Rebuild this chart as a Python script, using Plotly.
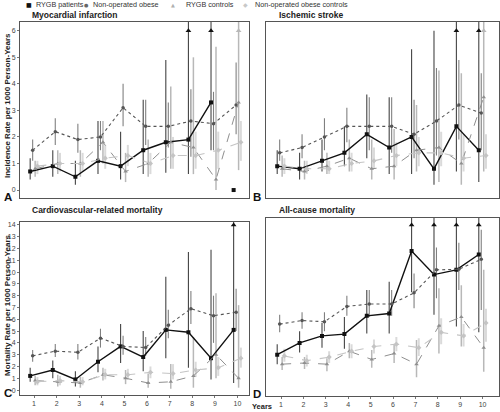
import plotly.graph_objects as go

YEARS = [1, 2, 3, 4, 5, 6, 7, 8, 9, 10]
Y_TICKS_TOP = [0, 1, 2, 3, 4, 5, 6]
Y_TICKS_BOTTOM = list(range(0, 15))

SERIES_NAMES = ["RYGB patients", "Non-operated obese", "RYGB controls", "Non-operated obese controls"]
PANEL_TITLES = ["Myocardial infarction", "Ischemic stroke", "Cardiovascular-related mortality", "All-cause mortality"]
PANEL_LETTERS = ["A", "B", "C", "D"]

# ---- Panel A: Myocardial infarction ----
MI_RYGB = [0.7, 0.9, 0.5, 1.1, 0.9, 1.5, 1.8, 1.9, 3.3, 0.0]
MI_RYGB_LO = [0.4, 0.5, 0.2, 0.6, 0.4, 0.6, 0.65, 0.6, 1.5, None]
MI_RYGB_HI = [1.2, 1.5, 1.1, 2.6, 2.2, 3.4, 4.9, 8.0, 8.0, None]
MI_NONOP = [1.5, 2.2, 1.9, 2.0, 3.1, 2.4, 2.4, 2.6, 2.5, 3.2]
MI_NONOP_LO = [1.1, 1.7, 1.4, 1.5, 2.4, 1.7, 1.6, 1.25, 1.5, 2.1]
MI_NONOP_HI = [1.9, 2.7, 2.5, 2.6, 4.0, 3.4, 3.3, 3.8, 3.7, 4.8]
MI_RCTRL = [0.8, 1.0, 1.0, 1.8, 0.7, 1.0, 1.8, 1.6, 0.4, 3.3]
MI_RCTRL_LO = [0.5, 0.6, 0.5, 1.0, 0.3, 0.5, 0.8, 0.6, 0.0, 0.75]
MI_RCTRL_HI = [1.1, 1.5, 1.5, 2.6, 1.4, 1.9, 3.9, 5.0, 5.4, 8.0]
MI_NCTRL = [0.9, 1.0, 1.0, 1.2, 1.3, 1.0, 1.3, 1.3, 1.5, 1.8]
MI_NCTRL_LO = [0.6, 0.7, 0.7, 0.8, 0.9, 0.6, 0.8, 0.8, 0.8, 1.1]
MI_NCTRL_HI = [1.1, 1.4, 1.4, 1.7, 1.7, 1.4, 2.0, 2.2, 2.2, 2.6]

# ---- Panel B: Ischemic stroke ----
IS_RYGB = [0.9, 0.8, 1.1, 1.4, 2.1, 1.6, 2.0, 0.8, 2.4, 1.5]
IS_RYGB_LO = [0.6, 0.4, 0.7, 0.9, 1.2, 0.6, 0.6, 0.2, 0.7, 0.3]
IS_RYGB_HI = [1.5, 1.4, 1.9, 2.4, 3.6, 3.5, 5.3, 6.0, 8.0, 8.0]
IS_NONOP = [1.4, 1.6, 2.0, 2.4, 2.4, 2.4, 2.1, 2.6, 3.2, 2.9]
IS_NONOP_LO = [1.1, 1.2, 1.5, 1.8, 1.5, 1.4, 1.2, 1.3, 1.9, 1.5]
IS_NONOP_HI = [1.9, 2.1, 2.7, 3.1, 3.5, 3.5, 3.4, 4.6, 4.9, 4.4]
IS_RCTRL = [0.8, 0.7, 0.9, 1.2, 0.8, 0.9, 1.5, 1.6, 1.0, 3.5]
IS_RCTRL_LO = [0.5, 0.4, 0.6, 0.7, 0.4, 0.4, 0.7, 0.3, 0.2, 0.7]
IS_RCTRL_HI = [1.3, 1.1, 1.4, 1.9, 1.9, 2.3, 3.2, 4.5, 4.4, 8.0]
IS_NCTRL = [0.9, 0.8, 0.8, 1.0, 1.1, 1.3, 1.4, 1.4, 1.2, 1.3]
IS_NCTRL_LO = [0.6, 0.6, 0.6, 0.7, 0.8, 0.9, 0.9, 0.9, 0.7, 0.8]
IS_NCTRL_HI = [1.2, 1.1, 1.1, 1.4, 1.6, 1.8, 2.0, 2.2, 2.1, 2.1]

# ---- Panel C: Cardiovascular-related mortality ----
CV_RYGB = [1.2, 1.7, 0.9, 2.4, 3.7, 2.8, 5.1, 4.9, 2.7, 5.1]
CV_RYGB_LO = [0.7, 1.0, 0.3, 1.5, 2.3, 1.6, 2.7, 1.9, 0.9, 0.6]
CV_RYGB_HI = [1.9, 2.5, 1.6, 3.7, 5.6, 5.0, 9.6, 11.7, 11.9, 16.0]
CV_NONOP = [2.9, 3.3, 3.2, 4.4, 3.7, 3.6, 5.5, 6.9, 6.3, 6.6]
CV_NONOP_LO = [2.4, 2.8, 2.6, 3.6, 3.0, 2.9, 4.4, 5.6, 4.0, 5.0]
CV_NONOP_HI = [3.4, 3.9, 3.9, 5.2, 4.6, 4.5, 6.8, 8.4, 8.0, 8.6]
CV_RCTRL = [0.8, 0.7, 0.6, 1.3, 1.0, 0.6, 0.7, 1.2, 3.0, 1.0]
CV_RCTRL_LO = [0.4, 0.3, 0.2, 0.8, 0.5, 0.2, 0.1, 0.2, 1.0, 0.2]
CV_RCTRL_HI = [1.2, 1.3, 1.1, 1.9, 1.7, 1.4, 2.2, 4.5, 8.2, 7.2]
CV_NCTRL = [0.7, 0.8, 0.7, 1.3, 1.3, 1.5, 1.4, 1.7, 1.9, 2.7]
CV_NCTRL_LO = [0.4, 0.4, 0.4, 0.9, 0.9, 1.0, 0.9, 1.1, 1.2, 1.9]
CV_NCTRL_HI = [1.1, 1.2, 1.1, 1.8, 1.8, 2.0, 2.2, 2.4, 2.8, 3.6]

# ---- Panel D: All-cause mortality ----
AC_RYGB = [3.0, 4.0, 4.6, 4.75, 6.3, 6.5, 11.8, 9.8, 10.2, 11.5]
AC_RYGB_LO = [2.2, 3.2, 3.6, 3.5, 4.8, 4.8, 8.3, 6.4, 5.4, 4.9]
AC_RYGB_HI = [3.9, 5.0, 5.7, 6.2, 8.5, 9.2, 16.0, 16.0, 16.0, 16.0]
AC_NONOP = [5.6, 5.9, 5.8, 7.1, 7.3, 7.3, 8.25, 10.2, 10.25, 11.1]
AC_NONOP_LO = [4.9, 5.2, 5.0, 6.3, 6.2, 6.3, 6.95, 7.8, 8.5, 6.8]
AC_NONOP_HI = [6.4, 6.6, 6.6, 8.0, 8.5, 8.5, 9.9, 12.1, 12.5, 13.6]
AC_RCTRL = [2.2, 2.3, 2.2, 3.3, 2.6, 3.1, 2.2, 5.45, 6.2, 3.6]
AC_RCTRL_LO = [1.7, 1.8, 1.6, 2.7, 1.9, 2.3, 1.1, 3.1, 3.7, 1.55]
AC_RCTRL_HI = [2.8, 2.8, 2.7, 4.0, 3.4, 3.9, 4.25, 8.65, 8.9, 10.2]
AC_NCTRL = [2.9, 2.5, 2.8, 3.3, 3.7, 3.9, 3.6, 4.9, 4.6, 5.7]
AC_NCTRL_LO = [2.4, 2.0, 2.3, 2.7, 3.1, 3.3, 2.9, 3.9, 3.7, 4.1]
AC_NCTRL_HI = [3.5, 3.0, 3.3, 3.9, 4.3, 4.5, 4.4, 6.1, 5.6, 6.9]

# ---------------- styling ----------------
FONT = "Liberation Sans, Arial, sans-serif"
STYLES = [
    dict(color="#111111", dash="solid", width=1.4, symbol="square", size=4, bar="#444444", barw=1.1),
    dict(color="#555555", dash="dot", width=1.1, symbol="circle", size=3.5, bar="#808080", barw=1.1),
    dict(color="#8f8f8f", dash="dash", width=1.0, symbol="triangle-up", size=4, bar="#b8b8b8", barw=1.5),
    dict(color="#c4c4c4", dash="dash", width=1.1, symbol="diamond", size=4, bar="#dadada", barw=2.0),
]
OFFSETS = [-0.17, -0.06, 0.05, 0.15]

PANELS = [
    dict(data=[(MI_RYGB, MI_RYGB_LO, MI_RYGB_HI), (MI_NONOP, MI_NONOP_LO, MI_NONOP_HI),
               (MI_RCTRL, MI_RCTRL_LO, MI_RCTRL_HI), (MI_NCTRL, MI_NCTRL_LO, MI_NCTRL_HI)],
         cap=6, xd=[0.040, 0.498], yd=[1 - 198 / 412, 1 - 22 / 412], yr=[-0.3, 6.33], xr=[0.38, 10.51]),
    dict(data=[(IS_RYGB, IS_RYGB_LO, IS_RYGB_HI), (IS_NONOP, IS_NONOP_LO, IS_NONOP_HI),
               (IS_RCTRL, IS_RCTRL_LO, IS_RCTRL_HI), (IS_NCTRL, IS_NCTRL_LO, IS_NCTRL_HI)],
         cap=6, xd=[0.532, 0.997], yd=[1 - 198 / 412, 1 - 22 / 412], yr=[-0.3, 6.33], xr=[0.33, 10.71]),
    dict(data=[(CV_RYGB, CV_RYGB_LO, CV_RYGB_HI), (CV_NONOP, CV_NONOP_LO, CV_NONOP_HI),
               (CV_RCTRL, CV_RCTRL_LO, CV_RCTRL_HI), (CV_NCTRL, CV_NCTRL_LO, CV_NCTRL_HI)],
         cap=14, xd=[0.040, 0.498], yd=[1 - 395 / 412, 1 - 222 / 412], yr=[-0.42, 14.25], xr=[0.38, 10.51]),
    dict(data=[(AC_RYGB, AC_RYGB_LO, AC_RYGB_HI), (AC_NONOP, AC_NONOP_LO, AC_NONOP_HI),
               (AC_RCTRL, AC_RCTRL_LO, AC_RCTRL_HI), (AC_NCTRL, AC_NCTRL_LO, AC_NCTRL_HI)],
         cap=14, xd=[0.532, 0.997], yd=[1 - 396 / 412, 1 - 218 / 412], yr=[-0.5, 14.6], xr=[0.33, 10.71]),
]

fig = go.Figure()
layout = {}
for p_i, panel in enumerate(PANELS):
    sfx = "" if p_i == 0 else str(p_i + 1)
    xa, ya = "x" + sfx, "y" + sfx
    for s_i, (vals, lo, hi) in enumerate(panel["data"]):
        st = STYLES[s_i]
        xs = [yr + OFFSETS[s_i] for yr in YEARS]
        plus = [(h - v) if h is not None else 0 for v, h in zip(vals, hi)]
        minus = [(v - l) if l is not None else 0 for v, l in zip(vals, lo)]
        fig.add_trace(go.Scatter(
            x=xs, y=vals, mode="markers", marker=dict(size=0.1, color="rgba(0,0,0,0)"),
            error_y=dict(type="data", symmetric=False, array=plus, arrayminus=minus,
                         width=0, thickness=st["barw"], color=st["bar"]),
            xaxis=xa, yaxis=ya, showlegend=False, hoverinfo="skip"))
    for s_i, (vals, lo, hi) in enumerate(panel["data"]):
        st = STYLES[s_i]
        xs = [yr + OFFSETS[s_i] for yr in YEARS]
        fig.add_trace(go.Scatter(
            x=xs, y=[v if v > 0 else None for v in vals], mode="lines",
            line=dict(color=st["color"], dash=st["dash"], width=st["width"]),
            xaxis=xa, yaxis=ya, showlegend=False, hoverinfo="skip", connectgaps=False))
        fig.add_trace(go.Scatter(
            x=xs, y=vals, mode="markers",
            marker=dict(symbol=st["symbol"], size=st["size"], color=st["color"]),
            xaxis=xa, yaxis=ya, showlegend=False, name=SERIES_NAMES[s_i]))
        ax_x = [x for x, h in zip(xs, hi) if h is not None and h > panel["cap"]]
        if ax_x:
            fig.add_trace(go.Scatter(
                x=ax_x, y=[panel["cap"]] * len(ax_x), mode="markers",
                marker=dict(symbol="triangle-up", size=5, color=st["bar"] if s_i > 1 else st["color"]),
                xaxis=xa, yaxis=ya, showlegend=False, hoverinfo="skip"))
    bottom = p_i >= 2
    left = p_i % 2 == 0
    ytv = Y_TICKS_TOP if p_i < 2 else Y_TICKS_BOTTOM
    layout["xaxis" + sfx] = dict(
        domain=panel["xd"], range=panel["xr"], anchor=ya, showgrid=False, zeroline=False,
        showline=True, mirror=True, linecolor="#555555", linewidth=1,
        tickvals=YEARS if bottom else [], ticks="outside" if bottom else "", ticklen=2,
        tickcolor="#777777", showticklabels=bottom,
        tickfont=dict(size=7, color="#444444", family=FONT))
    layout["yaxis" + sfx] = dict(
        domain=panel["yd"], range=panel["yr"], anchor=xa, showgrid=False, zeroline=False,
        showline=True, mirror=True, linecolor="#555555", linewidth=1,
        tickvals=ytv if left else [], ticks="outside" if left else "", ticklen=2,
        tickcolor="#777777", showticklabels=left,
        tickfont=dict(size=7, color="#444444", family=FONT))

annotations = []
title_pos = [(30, 15), (277, 15), (30, 210), (277, 210)]
for t, (px, py) in zip(PANEL_TITLES, title_pos):
    annotations.append(dict(text="<b>%s</b>" % t, x=px / 500, y=1 - py / 412, xref="paper", yref="paper",
                            xanchor="left", yanchor="middle", showarrow=False,
                            font=dict(size=8.5, color="#222222", family=FONT)))
letter_pos = [(2, 197), (251, 197), (2, 393), (251, 394)]
for t, (px, py) in zip(PANEL_LETTERS, letter_pos):
    annotations.append(dict(text="<b>%s</b>" % t, x=px / 500, y=1 - py / 412, xref="paper", yref="paper",
                            xanchor="left", yanchor="middle", showarrow=False,
                            font=dict(size=11.5, color="#111111", family=FONT)))
annotations.append(dict(text="<b>Incidence Rate per 1000 Person-Years</b>", x=7 / 500, y=1 - 106 / 412,
                        xref="paper", yref="paper", textangle=-90, showarrow=False,
                        xanchor="center", yanchor="middle", font=dict(size=8, color="#222222", family=FONT)))
annotations.append(dict(text="<b>Mortality Rate per 1000 Person-Years</b>", x=7 / 500, y=1 - 305 / 412,
                        xref="paper", yref="paper", textangle=-90, showarrow=False,
                        xanchor="center", yanchor="middle", font=dict(size=8, color="#222222", family=FONT)))
annotations.append(dict(text="<b>Years</b>", x=250 / 500, y=1 - 406 / 412, xref="paper", yref="paper",
                        xanchor="left", yanchor="middle", showarrow=False,
                        font=dict(size=7.5, color="#222222", family=FONT)))
# legend (symbol + label drawn separately)
legend_sym = ["\u25A0", "\u25CF", "\u25B2", "\u25C6"]
legend_sym_col = ["#111111", "#666666", "#b0b0b0", "#c8c8c8"]
legend_sym_size = [6, 5, 5, 6]
legend_sym_x = [28.5, 86, 173, 245]
legend_txt_x = [34, 90.5, 184, 252.5]
for s_i, name in enumerate(SERIES_NAMES):
    annotations.append(dict(text=legend_sym[s_i], x=legend_sym_x[s_i] / 500, y=1 - 5 / 412,
                            xref="paper", yref="paper", xanchor="center", yanchor="middle", showarrow=False,
                            font=dict(size=legend_sym_size[s_i], color=legend_sym_col[s_i], family="DejaVu Sans")))
    annotations.append(dict(text=name, x=legend_txt_x[s_i] / 500, y=1 - 5 / 412, xref="paper", yref="paper",
                            xanchor="left", yanchor="middle", showarrow=False,
                            font=dict(size=7.2, color="#333333", family=FONT)))

fig.update_layout(
    width=500, height=412, margin=dict(l=0, r=0, t=0, b=0),
    paper_bgcolor="white", plot_bgcolor="white", showlegend=False,
    annotations=annotations, font=dict(family=FONT), **layout)

fig.write_html("out.html", config={"displayModeBar": False},
               post_script="document.body.style.margin='0';document.body.style.overflow='hidden';")
